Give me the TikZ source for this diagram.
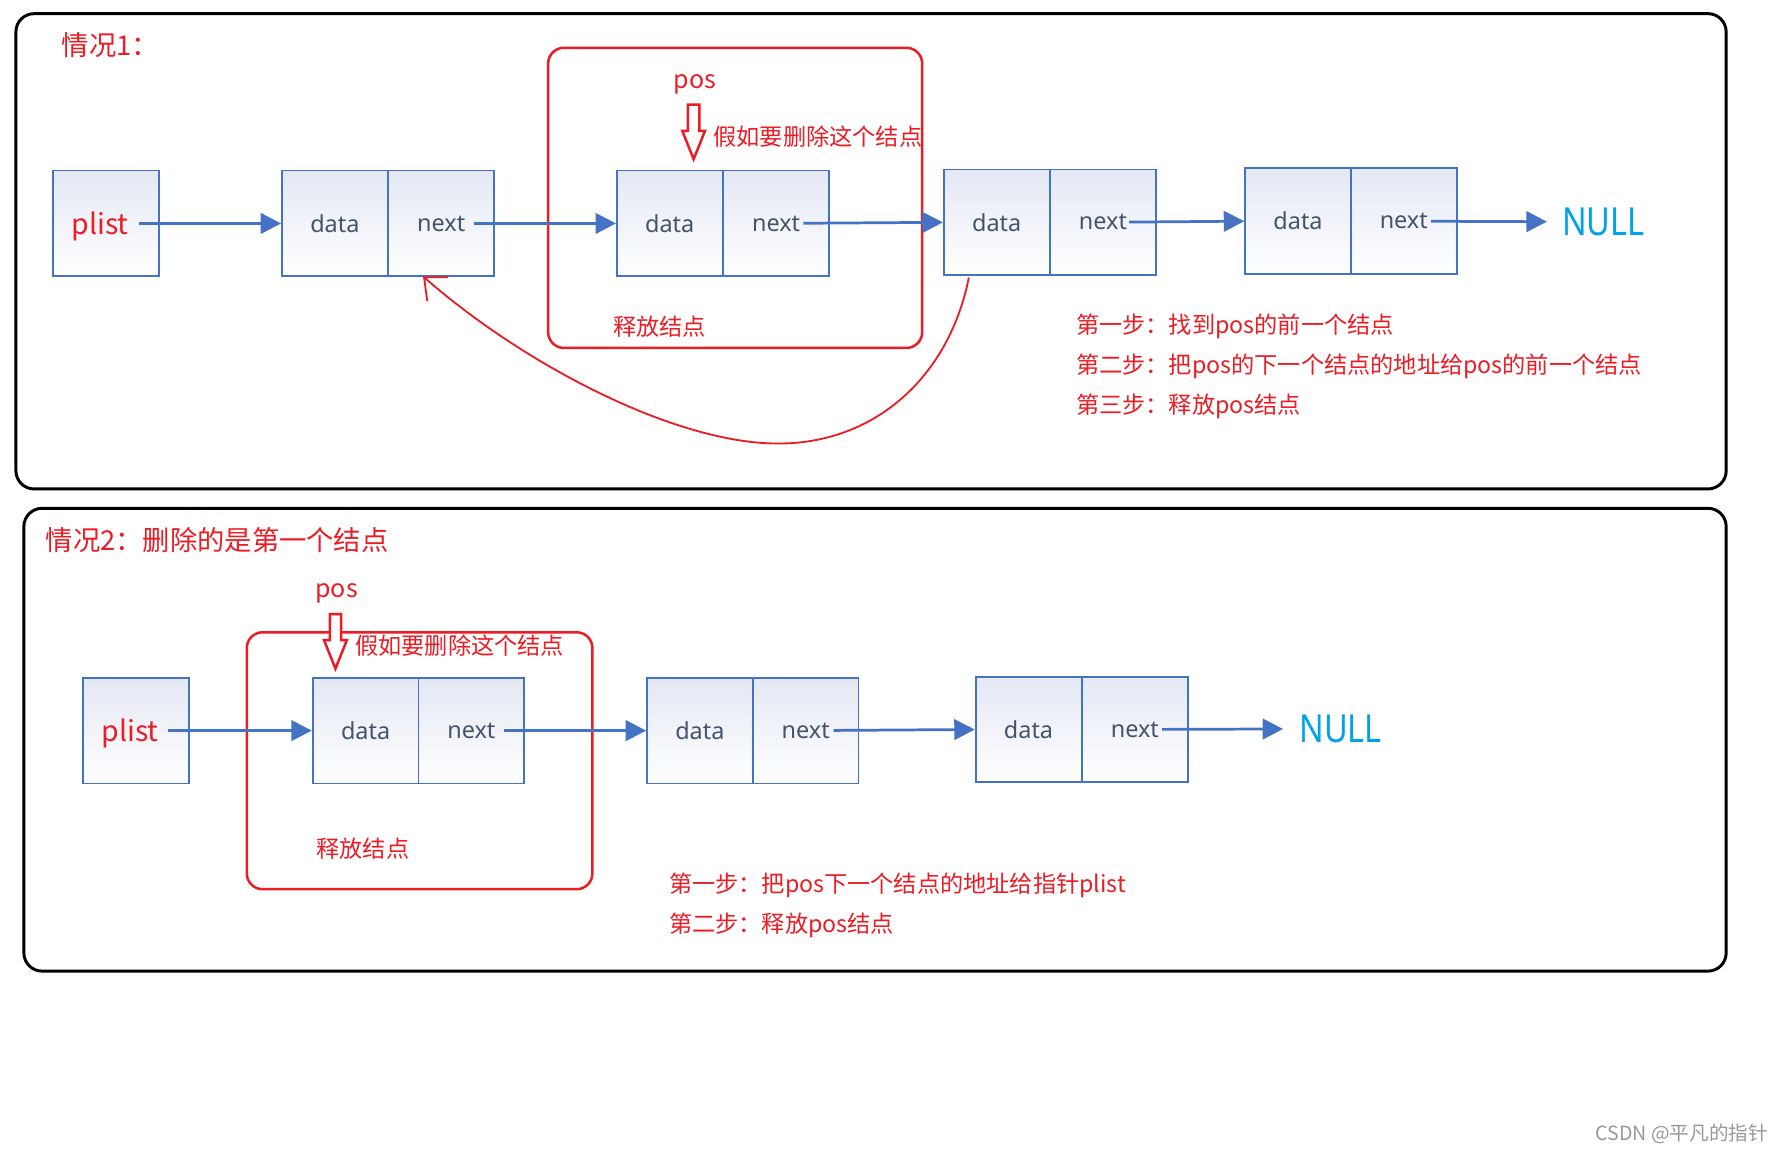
\documentclass[tikz,border=0pt]{standalone}
\usepackage{fontspec}
\setmainfont{Noto Sans}
\newfontfamily\cjk{Noto Sans CJK SC}
\newfontfamily\nulltxt[FakeStretch=0.84]{Noto Sans}
\usetikzlibrary{arrows.meta}
\definecolor{nblue}{RGB}{68,114,196}
\definecolor{ntext}{RGB}{68,84,106}
\definecolor{ctop}{RGB}{228,232,244}
\definecolor{nullblue}{RGB}{0,162,232}
\definecolor{lred}{RGB}{237,28,36}
\newcommand{\plisttxt}{\raisebox{-5pt}[0pt][0pt]{plist}\hspace*{5pt}}
\tikzset{
  cell/.style={draw=nblue, line width=0.8pt, top color=ctop, bottom color=white,
    minimum width=46.5pt, minimum height=46.5pt, inner sep=0pt, text=ntext,
    font=\fontsize{10.3}{12}\selectfont},
  plistcell/.style={cell, text=lred, font=\cjk\fontsize{12.5}{14}\selectfont},
  link/.style={draw=nblue, line width=1.2pt, -{Triangle[length=9pt,width=9pt]}},
  nulltext/.style={text=nullblue, inner sep=0pt, font=\nulltxt\fontsize{17}{20}\selectfont},
  outerbox/.style={draw=black, line width=1.3pt, rounded corners=8pt, inner sep=0pt},
  redbox/.style={draw=lred, line width=1.1pt, rounded corners=7pt, inner sep=0pt},
  redtext/.style={text=lred, inner sep=0pt, font=\cjk\fontsize{10.2}{12}\selectfont},
  titletext/.style={text=lred, inner sep=0pt, font=\cjk\fontsize{12}{14}\selectfont},
  postext/.style={text=lred, inner sep=0pt, font=\cjk\fontsize{11}{13}\selectfont},
  backlink/.style={draw=lred, line width=0.8pt, -{Straight Barb[length=8pt,width=14pt,line width=0.8pt]}},
  hollowdown/.pic={\draw[lred, line width=1.1pt, fill=white, line join=miter]
     (-5,0) -- (-5,23) -- (-10,23) -- (0,48) -- (10,23) -- (5,23) -- (5,0) -- cycle;}
}
\begin{document}
\begin{tikzpicture}[x=0.5pt,y=-0.5pt]
\useasboundingbox (0,0) rectangle (1568,1014);
\fill[white] (0,0) rectangle (1568,1014);

% ---------- case 1 ----------
\node[outerbox, minimum width=752pt, minimum height=209pt] (ob1) at (766,221) {};
\node[redbox, minimum width=164.5pt, minimum height=132pt] (rb1) at (646.5,174) {};
\node[titletext, anchor=west] (t1) at (54,40) {情况1：};

\node[plistcell] (p1) at (93,196.5) {\plisttxt};
\node[cell] (n1d) at (294.5,196.5) {data};
\node[cell] (n1n) at (388,196.5) {next};
\node[cell] (n2d) at (589,196.5) {data};
\node[cell] (n2n) at (682.5,196.5) {next};
\node[cell] (n3d) at (876.5,195.5) {data};
\node[cell] (n3n) at (970,195.5) {next};
\node[cell] (n4d) at (1141.5,194.5) {data};
\node[cell] (n4n) at (1234.5,194.5) {next};
\node[nulltext] (null1) at (1410,195) {NULL};

\draw[link, shorten <=14.5pt] (p1.center) -- (n1d.west);
\draw[link, shorten <=14.5pt] (n1n.center) -- (n2d.west);
\draw[link, shorten <=12pt] (n2n.center) -- (n3d.west);
\draw[link, shorten <=11.5pt] (n3n.center) -- (n4d.west);
\draw[link, shorten <=12pt, shorten >=6.5pt] (n4n.center) -- (null1.west);

\node[postext] (pos1) at (611,74) {pos};
\pic at (610,92) {hollowdown};
\node[redtext, anchor=west] (del1) at (627,120) {假如要删除这个结点};
\node[redtext, anchor=west] (free1) at (539,287) {释放结点};

\coordinate (c1s) at (852,244);
\coordinate (c1m) at (680,390);
\coordinate (c1e) at (372,243);
\draw[backlink] (c1s) .. controls (835,330) and (770,392) .. (c1m)
  .. controls (590,388) and (460,320) .. (c1e);

\node[redtext, anchor=west] (s11) at (946,287) {第一步：找到pos的前一个结点};
\node[redtext, anchor=west] (s12) at (946,322) {第二步：把pos的下一个结点的地址给pos的前一个结点};
\node[redtext, anchor=west] (s13) at (946,357) {第三步：释放pos结点};

% ---------- case 2 ----------
\node[outerbox, minimum width=748.5pt, minimum height=203.5pt] (ob2) at (769.5,650.5) {};
\node[titletext, anchor=west] (t2) at (40,475) {情况2：删除的是第一个结点};
\node[redbox, minimum width=152pt, minimum height=113pt] (rb2) at (369,669) {};

\node[plistcell] (p2) at (119.5,642.5) {\plisttxt};
\node[cell] (n5d) at (321.5,642.5) {data};
\node[cell] (n5n) at (414.5,642.5) {next};
\node[cell] (n6d) at (615.5,642.5) {data};
\node[cell] (n6n) at (708.5,642.5) {next};
\node[cell] (n7d) at (904.5,641.5) {data};
\node[cell] (n7n) at (998,641.5) {next};
\node[nulltext] (null2) at (1179,641) {NULL};

\draw[link, shorten <=14.25pt] (p2.center) -- (n5d.west);
\draw[link, shorten <=14.25pt] (n5n.center) -- (n6d.west);
\draw[link, shorten <=12.25pt] (n6n.center) -- (n7d.west);
\draw[link, shorten <=12pt, shorten >=7pt] (n7n.center) -- (null2.west);

\node[postext] (pos2) at (296,522) {pos};
\pic at (295,540) {hollowdown};
\node[redtext, anchor=west] (del2) at (312,568) {假如要删除这个结点};
\node[redtext, anchor=west] (free2) at (278,746) {释放结点};

\node[redtext, anchor=west] (s21) at (588,779) {第一步：把pos下一个结点的地址给指针plist};
\node[redtext, anchor=west] (s22) at (588,814) {第二步：释放pos结点};

\node[text=black!40, inner sep=0pt, anchor=east, font=\cjk\fontsize{8.6}{10}\selectfont] (wm) at (1555,997) {CSDN @平凡的指针};
\end{tikzpicture}
\end{document}
